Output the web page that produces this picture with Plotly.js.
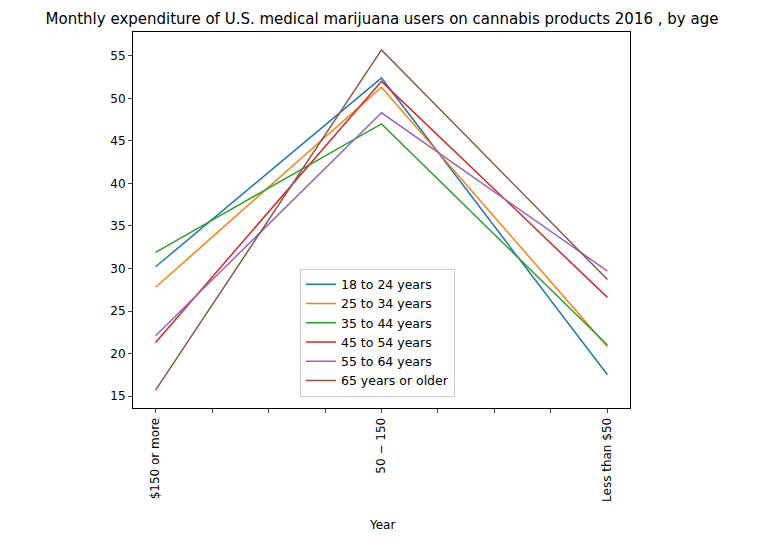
<!DOCTYPE html>
<html>
<head>
<meta charset="utf-8">
<script src="https://cdn.plot.ly/plotly-3.0.1.min.js"></script>
<style>body{margin:0;background:#fff}#chart{width:764px;height:543px}</style>
</head>
<body>
<div id="chart"></div>
<script>
// monthly spend buckets
var categories = ["$150 or more", "50 − 150", "Less than $50"];
var seriesNames = ["18 to 24 years", "25 to 34 years", "35 to 44 years", "45 to 54 years", "55 to 64 years", "65 years or older"];
var age18to24 = [30.2, 52.4, 17.5];
var age25to34 = [27.8, 51.3, 20.8];
var age35to44 = [31.9, 47.0, 21.0];
var age45to54 = [21.3, 52.0, 26.6];
var age55to64 = [22.1, 48.3, 29.7];
var age65plus = [15.7, 55.7, 28.7];
var colors = ["#1f77b4", "#ff7f0e", "#2ca02c", "#d62728", "#9467bd", "#8c564b"];

var allSeries = [age18to24, age25to34, age35to44, age45to54, age55to64, age65plus];
var xIdx = categories.map(function (c, i) { return i; });

var data = allSeries.map(function (vals, i) {
  return {
    x: xIdx, y: vals, mode: "lines", type: "scatter",
    name: seriesNames[i], line: { color: colors[i], width: 1.5 }
  };
});

// ticks every quarter step, only whole steps labelled
var tickvals = [], ticktext = [];
for (var t = 0; t <= 8; t++) {
  tickvals.push(t / 4);
  ticktext.push(t % 4 === 0 ? categories[t / 4] : "");
}

var layout = {
  width: 764, height: 543,
  margin: { l: 133, r: 134, t: 32, b: 135 },
  paper_bgcolor: "#fff", plot_bgcolor: "#fff",
  font: { family: "DejaVu Sans", size: 12, color: "#000" },
  title: { text: "Monthly expenditure of U.S. medical marijuana users on cannabis products 2016 , by age",
           x: 0.5, y: 0.975, font: { size: 15 } },
  xaxis: {
    range: [-0.1, 2.1], tickvals: tickvals, ticktext: ticktext, tickangle: -90,
    ticks: "outside", ticklen: 4, showgrid: false, zeroline: false,
    showline: true, mirror: true, linecolor: "#000", linewidth: 1
  },
  yaxis: {
    range: [13.6, 57.8], tickvals: [15, 20, 25, 30, 35, 40, 45, 50, 55],
    ticks: "outside", ticklen: 4, showgrid: false, zeroline: false,
    showline: true, mirror: true, linecolor: "#000", linewidth: 1
  },
  annotations: [{
    text: "Year", xref: "paper", yref: "paper", x: 0.5, y: -0.311,
    xanchor: "center", yanchor: "middle", showarrow: false, font: { size: 12 }
  }],
  legend: {
    x: 0.336, y: 0.03, xanchor: "left", yanchor: "bottom", tracegroupgap: 0,
    bgcolor: "rgba(255,255,255,0.8)", bordercolor: "#ccc", borderwidth: 1,
    font: { size: 12.5 }
  }
};

Plotly.newPlot("chart", data, layout, { displayModeBar: false });
</script>
</body>
</html>
